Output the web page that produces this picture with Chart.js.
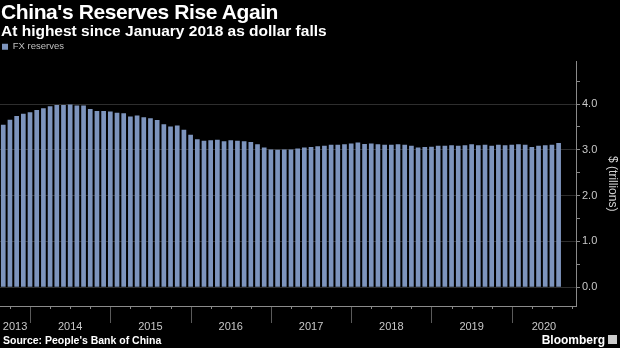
<!DOCTYPE html>
<html>
<head>
<meta charset="utf-8">
<script src="https://cdn.jsdelivr.net/npm/chart.js@4"></script>
<style>
  body { margin: 0; background: #000; }
  #wrap { position: relative; width: 620px; height: 348px; background: #000; overflow: hidden; }
  #chart { position: absolute; left: 0; top: 0; }
  .title { position: absolute; left: 1px; top: 0px; color: #fff; font: bold 21px "Liberation Sans", Arial, sans-serif; letter-spacing: -0.4px; }
  .sub { position: absolute; left: 1px; top: 22px; color: #fff; font: bold 15.5px "Liberation Sans", Arial, sans-serif; }
  .source { position: absolute; left: 3px; top: 334px; color: #fff; font: bold 10.5px "Liberation Sans", Arial, sans-serif; }
  .brand { position: absolute; right: 15px; top: 333px; color: #fff; font: bold 12px "Liberation Sans", Arial, sans-serif; }
  .logo { position: absolute; left: 608px; top: 335px; width: 9px; height: 9px; background: #ccc; }
</style>
</head>
<body>
<div id="wrap">
  <canvas id="chart" width="620" height="348"></canvas>
  <div class="title">China's Reserves Rise Again</div>
  <div class="sub">At highest since January 2018 as dollar falls</div>
  <div class="source">Source: People's Bank of China</div>
  <div class="brand">Bloomberg</div>
  <div class="logo"></div>
</div>
<script>
// month-end observations, Aug 2013 .. Jul 2020
const months = [
  '2013-08','2013-09','2013-10','2013-11','2013-12',
  '2014-01','2014-02','2014-03','2014-04','2014-05','2014-06','2014-07','2014-08','2014-09','2014-10','2014-11','2014-12',
  '2015-01','2015-02','2015-03','2015-04','2015-05','2015-06','2015-07','2015-08','2015-09','2015-10','2015-11','2015-12',
  '2016-01','2016-02','2016-03','2016-04','2016-05','2016-06','2016-07','2016-08','2016-09','2016-10','2016-11','2016-12',
  '2017-01','2017-02','2017-03','2017-04','2017-05','2017-06','2017-07','2017-08','2017-09','2017-10','2017-11','2017-12',
  '2018-01','2018-02','2018-03','2018-04','2018-05','2018-06','2018-07','2018-08','2018-09','2018-10','2018-11','2018-12',
  '2019-01','2019-02','2019-03','2019-04','2019-05','2019-06','2019-07','2019-08','2019-09','2019-10','2019-11','2019-12',
  '2020-01','2020-02','2020-03','2020-04','2020-05','2020-06','2020-07'
];
const fxReserves = [
  3.55, 3.66, 3.74, 3.79, 3.82,
  3.87, 3.91, 3.95, 3.98, 3.98, 3.99, 3.97, 3.97, 3.89, 3.85, 3.85, 3.84,
  3.81, 3.80, 3.73, 3.75, 3.71, 3.69, 3.65, 3.56, 3.51, 3.53, 3.44, 3.33,
  3.23, 3.20, 3.21, 3.22, 3.19, 3.21, 3.20, 3.19, 3.17, 3.12, 3.05, 3.01,
  3.00, 3.01, 3.01, 3.03, 3.05, 3.06, 3.08, 3.09, 3.11, 3.11, 3.12, 3.14,
  3.16, 3.13, 3.14, 3.12, 3.11, 3.11, 3.12, 3.11, 3.09, 3.05, 3.06, 3.07,
  3.09, 3.09, 3.10, 3.09, 3.10, 3.12, 3.10, 3.11, 3.09, 3.11, 3.10, 3.11,
  3.12, 3.11, 3.06, 3.09, 3.10, 3.11, 3.15
];
const years = [2013, 2014, 2015, 2016, 2017, 2018, 2019, 2020];
const yTicks = [0, 1, 2, 3, 4];

const xMin = 2013.626, xMax = 2020.80;

// month-end date -> fractional year
function monthEnd(s) {
  const [y, m] = s.split('-').map(Number);
  return y + m / 12;
}

const points = months.map((m, i) => ({ x: monthEnd(m), y: fxReserves[i] }));

// x axis drawn by hand: base line, quarter ticks, year separators, year labels
const timeAxis = {
  id: 'timeAxis',
  afterDraw(chart) {
    const { ctx, chartArea } = chart;
    const sx = chart.scales.x;
    const b = Math.round(chartArea.bottom);
    ctx.save();
    ctx.lineWidth = 1;
    ctx.strokeStyle = '#8a8a8a';
    ctx.beginPath();
    ctx.moveTo(chartArea.left, b + 0.5);
    ctx.lineTo(chartArea.right, b + 0.5);
    ctx.stroke();
    for (let q = Math.ceil(xMin * 4); q <= xMax * 4; q++) {
      const px = Math.round(sx.getPixelForValue(q / 4)) + 0.5;
      const major = q % 4 === 0;
      ctx.beginPath();
      ctx.moveTo(px, b + 1);
      ctx.lineTo(px, b + (major ? 17 : 3));
      ctx.strokeStyle = major ? '#5a5a5a' : '#8a8a8a';
      ctx.stroke();
    }
    ctx.fillStyle = '#c8c8c8';
    ctx.font = '11px "Liberation Sans", Arial, sans-serif';
    ctx.textAlign = 'center';
    ctx.textBaseline = 'middle';
    years.forEach(y => {
      const a = sx.getPixelForValue(Math.max(y, xMin));
      const e = sx.getPixelForValue(Math.min(y + 1, xMax));
      ctx.fillText(String(y), (a + e) / 2, b + 21);
    });
    ctx.restore();
  }
};

new Chart(document.getElementById('chart'), {
  type: 'bar',
  data: {
    datasets: [{
      label: 'FX reserves',
      data: points,
      backgroundColor: '#7d94bd',
      borderWidth: 0,
      barPercentage: 0.7,
      categoryPercentage: 1
    }]
  },
  plugins: [timeAxis],
  options: {
    responsive: false,
    animation: false,
    layout: { padding: { top: 40, bottom: 42, left: 0, right: 0 } },
    plugins: {
      legend: {
        display: true,
        position: 'top',
        align: 'start',
        labels: {
          color: '#c0c0c0',
          font: { size: 9.5, family: '"Liberation Sans", Arial, sans-serif' },
          boxWidth: 6,
          boxHeight: 6,
          padding: 2
        }
      },
      tooltip: { enabled: false }
    },
    scales: {
      x: {
        type: 'linear',
        display: false,
        offset: false,
        min: xMin,
        max: xMax
      },
      y: {
        position: 'right',
        min: -0.41,
        max: 4.93,
        afterFit(scale) { scale.width = 44; },
        afterBuildTicks(scale) {
          const t = [];
          yTicks.forEach(v => { t.push({ value: v }); t.push({ value: v + 0.5 }); });
          scale.ticks = t;
        },
        border: { display: true, color: '#8a8a8a' },
        grid: {
          drawOnChartArea: true,
          tickLength: 4,
          color: c => (c.tick && Number.isInteger(c.tick.value)) ? '#2e2e2e' : 'rgba(0,0,0,0)',
          tickColor: '#8a8a8a'
        },
        ticks: {
          color: '#c8c8c8',
          padding: 2,
          font: { size: 11, family: '"Liberation Sans", Arial, sans-serif' },
          callback: v => Number.isInteger(v) ? v.toFixed(1) : ''
        },
        title: {
          display: true,
          text: '$ (trillions)',
          color: '#d0d0d0',
          font: { size: 12, family: '"Liberation Sans", Arial, sans-serif' },
          padding: 0
        }
      }
    }
  }
});
</script>
</body>
</html>
